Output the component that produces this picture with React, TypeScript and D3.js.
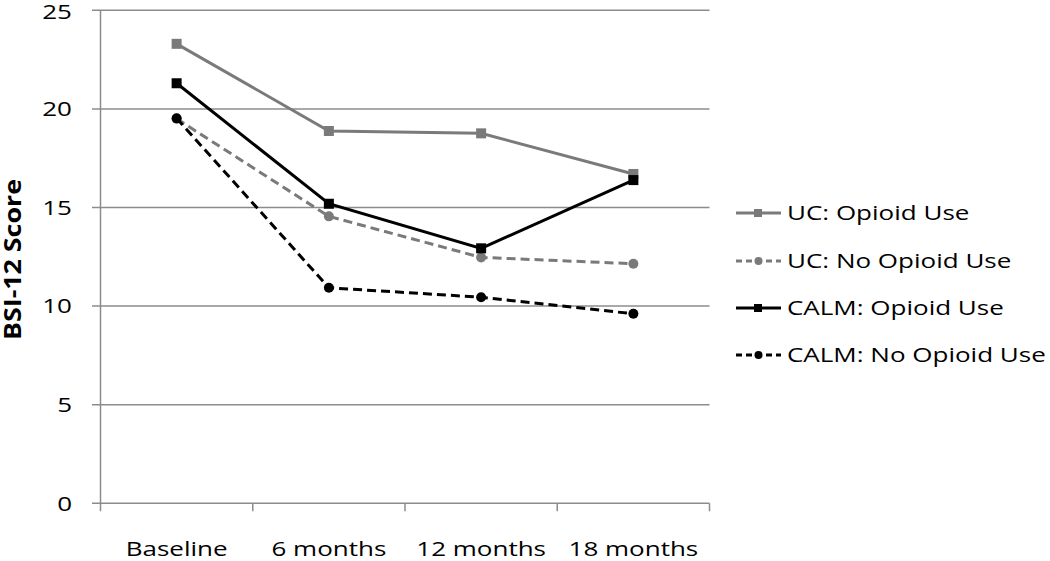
import React from "react";
import * as d3 from "d3";

const categories = ["Baseline", "6 months", "12 months", "18 months"];
const yTicks = [0, 5, 10, 15, 20, 25];
const ucOpioid = [23.3, 18.88, 18.76, 16.7];
const ucNoOpioid = [19.5, 14.55, 12.47, 12.15];
const calmOpioid = [21.3, 15.19, 12.93, 16.39];
const calmNoOpioid = [19.52, 10.93, 10.45, 9.61];

const seriesNames = ["UC: Opioid Use", "UC: No Opioid Use", "CALM: Opioid Use", "CALM: No Opioid Use"];

const series = [
  { name: seriesNames[0], values: ucOpioid, color: "#7a7a7a", dash: null, marker: "square" },
  { name: seriesNames[1], values: ucNoOpioid, color: "#7a7a7a", dash: "9,5", marker: "circle" },
  { name: seriesNames[2], values: calmOpioid, color: "#000000", dash: null, marker: "square" },
  { name: seriesNames[3], values: calmNoOpioid, color: "#000000", dash: "9,5", marker: "circle" },
];

const FONT = "'Open Sans', 'Noto Sans', sans-serif";
const SX = 1.3;

export default function App() {
  const W = 1050, H = 561;
  const left = 100.5, right = 709.5, top = 10.3, bottom = 503.3;
  const x = d3.scaleBand<string>().domain(categories).range([left, right]);
  const y = d3.scaleLinear().domain([0, 25]).range([bottom, top]);
  const line = d3.line<number>()
    .x((_, i) => (x(categories[i]) as number) + x.bandwidth() / 2)
    .y((d) => y(d));
  const gridColor = "#8c8c8c";
  const legendY = [213, 261, 308, 355];
  return (
    <svg width={W} height={H} style={{ position: "absolute", left: 0, top: 0 }}>
      <rect width={W} height={H} fill="#fff" />
      {yTicks.map((t) => (
        <g key={t}>
          <line x1={92} x2={right} y1={y(t)} y2={y(t)} stroke={gridColor} strokeWidth={1.5} />
          <g transform={`translate(72,${Math.max(y(t), 12)}) scale(${SX},1)`}>
            <text x={0} y={0} dy="0.36em" textAnchor="end" fontFamily={FONT} fontSize={20} fill="#000">{t}</text>
          </g>
        </g>
      ))}
      <line x1={left} x2={left} y1={top} y2={bottom + 8} stroke={gridColor} strokeWidth={1.5} />
      {categories.map((c, i) => (
        <line key={"t" + i} x1={(x(c) as number) + x.bandwidth()} x2={(x(c) as number) + x.bandwidth()} y1={bottom} y2={bottom + 8} stroke={gridColor} strokeWidth={1.5} />
      ))}
      {categories.map((c) => (
        <g key={c} transform={`translate(${(x(c) as number) + x.bandwidth() / 2},556) scale(${SX},1)`}>
          <text x={0} y={0} textAnchor="middle" fontFamily={FONT} fontSize={20} fill="#000">{c}</text>
        </g>
      ))}
      <text transform={`translate(21,259.5) rotate(-90)`} textAnchor="middle" fontFamily={FONT} fontSize={23} fontWeight="bold" fill="#000" textLength={161} lengthAdjust="spacingAndGlyphs">BSI-12 Score</text>
      {series.map((s) => (
        <g key={s.name}>
          <path d={line(s.values) || ""} fill="none" stroke={s.color} strokeWidth={3} strokeDasharray={s.dash || undefined} />
          {s.values.map((v, i) => {
            const cx = (x(categories[i]) as number) + x.bandwidth() / 2;
            const cy = y(v);
            return s.marker === "square" ? (
              <rect key={i} x={cx - 5} y={cy - 5} width={10} height={10} fill={s.color} />
            ) : (
              <circle key={i} cx={cx} cy={cy} r={5} fill={s.color} />
            );
          })}
        </g>
      ))}
      {series.map((s, i) => (
        <g key={"lg" + i} transform={`translate(736,${legendY[i]})`}>
          <line x1={0} x2={45} y1={0} y2={0} stroke={s.color} strokeWidth={3} strokeDasharray={s.dash ? "6,4" : undefined} />
          {s.marker === "square" ? (
            <rect x={18} y={-4} width={8} height={8} fill={s.color} />
          ) : (
            <circle cx={22.5} cy={0} r={4} fill={s.color} />
          )}
          <g transform={`translate(51,0) scale(${SX},1)`}>
            <text x={0} y={0} dy="0.36em" fontFamily={FONT} fontSize={20} fill="#000">{s.name}</text>
          </g>
        </g>
      ))}
    </svg>
  );
}
